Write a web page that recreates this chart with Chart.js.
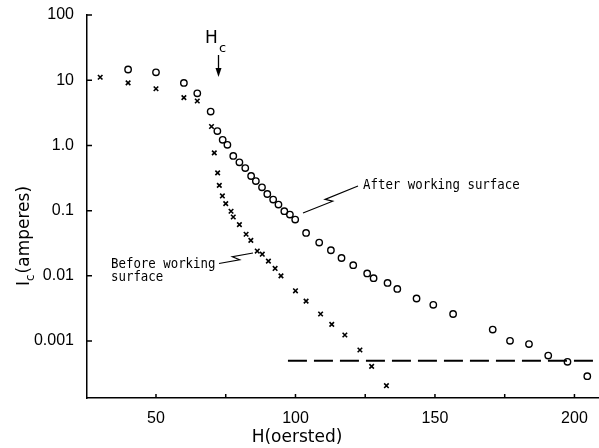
<!DOCTYPE html>
<html>
<head>
<meta charset="utf-8">
<script src="https://cdn.jsdelivr.net/npm/chart.js@4/dist/chart.umd.min.js"></script>
<style>
  html, body { margin: 0; padding: 0; background: #fff; }
  canvas { display: block; }
</style>
</head>
<body>
<canvas id="chart" width="599" height="448"></canvas>
<script>
// after working surface (circles)
const hAfter = [40, 50, 60, 64.8, 69.6, 72, 73.9, 75.6, 77.7, 79.9, 82, 84.1, 85.8, 88, 89.9, 92, 93.9, 96, 98, 99.9,
    103.8, 108.5, 112.7, 116.5, 120.7, 125.7, 128, 133, 136.5, 143.4, 149.4, 156.5, 170.7, 176.9, 183.7, 190.6, 197.5, 204.6];
const icAfter = [14.6, 13.2, 9.1, 6.3, 3.3, 1.66, 1.22, 1.02, 0.69, 0.55, 0.45, 0.34, 0.284, 0.228, 0.18, 0.148, 0.124, 0.098, 0.087, 0.073,
    0.0455, 0.0324, 0.0247, 0.0188, 0.0146, 0.0109, 0.0092, 0.0078, 0.0063, 0.0045, 0.0036, 0.0026, 0.0015, 0.00101, 0.0009, 0.0006, 0.00048, 0.00029];

// before working surface (crosses)
const hBefore = [30, 40, 50, 60, 64.8, 69.9, 70.9, 72.1, 72.7, 73.8, 75, 76.9, 77.7, 79.9, 82.3, 84, 86.3, 88.1, 90.3, 92.7, 94.8,
    100, 103.8, 109, 113, 117.7, 123.1, 127.3, 132.6];
const icBefore = [11.1, 9.1, 7.4, 5.4, 4.8, 1.95, 0.77, 0.38, 0.244, 0.168, 0.128, 0.098, 0.08, 0.061, 0.0434, 0.035, 0.024, 0.0215, 0.0168, 0.013, 0.01,
    0.0059, 0.0041, 0.0026, 0.0018, 0.00124, 0.00073, 0.00041, 0.000207];

// dashed floor
const hFloor = [97.3, 209];
const icFloor = [0.0005, 0.0005];

const xTicks = [50, 100, 150, 200];
const xMinor = [75, 125, 175];
const yTicks = [0.001, 0.01, 0.1, 1, 10, 100];
const yLabels = ['0.001', '0.01', '0.1', '1.0', '10', '100'];

const pts = (xs, ys) => xs.map((x, i) => ({ x: x, y: ys[i] }));

const extras = {
    id: 'extras',
    afterDraw(chart) {
        const ctx = chart.ctx;
        const xs = chart.scales.x, ys = chart.scales.y;
        const area = chart.chartArea;
        ctx.save();
        ctx.strokeStyle = '#000';
        ctx.fillStyle = '#000';
        ctx.lineWidth = 1.5;

        // inside tick marks
        ctx.beginPath();
        xTicks.concat(xMinor).forEach(v => {
            const px = xs.getPixelForValue(v);
            ctx.moveTo(px, area.bottom);
            ctx.lineTo(px, area.bottom - 4);
        });
        yTicks.forEach(v => {
            const py = ys.getPixelForValue(v);
            ctx.moveTo(area.left, py);
            ctx.lineTo(area.left + 5, py);
        });
        ctx.stroke();

        // axis titles
        ctx.font = '17px "DejaVu Sans"';
        ctx.textAlign = 'center';
        ctx.textBaseline = 'middle';
        ctx.fillText('H(oersted)', 297, 438);

        ctx.save();
        ctx.translate(23, 236);
        ctx.rotate(-Math.PI / 2);
        ctx.textAlign = 'left';
        ctx.textBaseline = 'alphabetic';
        ctx.font = '17px "DejaVu Sans"';
        const wI = ctx.measureText('I').width;
        ctx.font = '12px "DejaVu Sans"';
        const wc = ctx.measureText('c').width;
        ctx.font = '17px "DejaVu Sans"';
        const wRest = ctx.measureText('(amperes)').width;
        let x0 = -(wI + wc + 1 + wRest) / 2;
        ctx.fillText('I', x0, 6);
        ctx.font = '12px "DejaVu Sans"';
        ctx.fillText('c', x0 + wI, 11);
        ctx.font = '17px "DejaVu Sans"';
        ctx.fillText('(amperes)', x0 + wI + wc + 1, 6);
        ctx.restore();

        // H_c marker
        ctx.textAlign = 'left';
        ctx.textBaseline = 'alphabetic';
        ctx.font = '17px "DejaVu Sans"';
        ctx.fillText('H', 205, 43);
        ctx.font = '13px "DejaVu Sans"';
        ctx.fillText('c', 219, 52);
        ctx.lineWidth = 1.3;
        ctx.beginPath();
        ctx.moveTo(218.5, 55);
        ctx.lineTo(218.5, 70);
        ctx.stroke();
        ctx.beginPath();
        ctx.moveTo(215.5, 68);
        ctx.lineTo(221.5, 68);
        ctx.lineTo(218.5, 77);
        ctx.closePath();
        ctx.fill();

        // annotation texts (slightly stretched mono lettering)
        const stretched = (txt, x, y) => {
            ctx.save();
            ctx.translate(x, y);
            ctx.scale(1, 1.2);
            ctx.font = '12.4px "DejaVu Sans Mono"';
            ctx.fillText(txt, 0, 0);
            ctx.restore();
        };
        stretched('After working surface', 363, 189);
        stretched('Before working', 111, 267.5);
        stretched('surface', 111, 280.5);

        // leader lines with a zigzag
        const leader = (a, b, t) => {
            const dx = b[0] - a[0], dy = b[1] - a[1];
            const len = Math.hypot(dx, dy);
            const ux = dx / len, uy = dy / len;
            const nx = -uy, ny = ux;
            const m = [a[0] + ux * len * t, a[1] + uy * len * t];
            ctx.beginPath();
            ctx.moveTo(a[0], a[1]);
            ctx.lineTo(m[0] + ux * 3 + nx * 2.5, m[1] + uy * 3 + ny * 2.5);
            ctx.lineTo(m[0] - ux * 3 - nx * 2.5, m[1] - uy * 3 - ny * 2.5);
            ctx.lineTo(b[0], b[1]);
            ctx.stroke();
        };
        ctx.lineWidth = 1.2;
        leader([303, 213], [358, 186], 0.47);
        leader([219, 263.5], [253, 253], 0.5);

        ctx.restore();
    }
};

new Chart(document.getElementById('chart'), {
    type: 'scatter',
    data: {
        datasets: [{
            label: 'After working surface',
            data: pts(hAfter, icAfter),
            pointStyle: 'circle',
            pointRadius: 3.2,
            borderWidth: 1.4,
            borderColor: '#000',
            backgroundColor: 'rgba(0,0,0,0)'
        }, {
            label: 'Before working surface',
            data: pts(hBefore, icBefore),
            pointStyle: 'crossRot',
            pointRadius: 3.2,
            borderWidth: 1.6,
            borderColor: '#000',
            backgroundColor: '#000'
        }, {
            label: 'floor',
            type: 'line',
            data: pts(hFloor, icFloor),
            showLine: true,
            pointRadius: 0,
            borderColor: '#000',
            borderWidth: 2,
            borderDash: [19, 7]
        }]
    },
    options: {
        responsive: false,
        animation: false,
        layout: { autoPadding: false, padding: { top: 15, right: 0, left: 0, bottom: 0 } },
        plugins: {
            legend: { display: false },
            tooltip: { enabled: false }
        },
        scales: {
            x: {
                type: 'linear',
                min: 25.27,
                max: 208.8,
                afterBuildTicks: s => { s.ticks = xTicks.map(v => ({ value: v })); },
                afterFit: s => { s.height = 50; s.paddingLeft = 0; s.paddingRight = 0; },
                grid: { display: false },
                border: { display: true, color: '#000', width: 1.5 },
                ticks: {
                    autoSkip: false,
                    maxRotation: 0,
                    padding: 3,
                    color: '#000',
                    font: { family: '"Liberation Sans"', size: 16 },
                    callback: v => String(v)
                }
            },
            y: {
                type: 'logarithmic',
                min: 1.34e-4,
                max: 100,
                afterBuildTicks: s => { s.ticks = yTicks.map(v => ({ value: v })); },
                afterFit: s => { s.width = 87; s.paddingTop = 0; s.paddingBottom = 0; },
                grid: { display: false },
                border: { display: true, color: '#000', width: 1.5 },
                ticks: {
                    autoSkip: false,
                    padding: 5,
                    color: '#000',
                    font: { family: '"Liberation Sans"', size: 16 },
                    callback: v => {
                        const i = yTicks.indexOf(v);
                        return i >= 0 ? yLabels[i] : '';
                    }
                }
            }
        }
    },
    plugins: [extras]
});
</script>
</body>
</html>
